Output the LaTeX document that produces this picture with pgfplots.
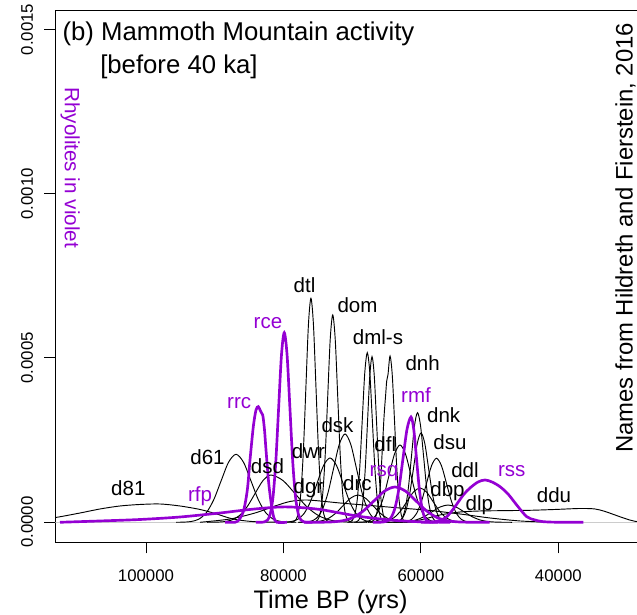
\documentclass[border=0pt]{standalone}
\usepackage{pgfplots}
\pgfplotsset{compat=1.18}
\usepackage{fontspec}
\setmainfont{Liberation Sans}
\definecolor{viol}{HTML}{9400D3}
\newcommand{\lab}{\fontsize{15.4}{18}\selectfont}
\begin{document}
\begin{tikzpicture}
\begin{axis}[
  at={(41.475pt,54.525pt)}, anchor=south west,
  scale only axis, width=445.3pt, height=398.5pt,
  x dir=reverse,
  xmin=26804, xmax=113199, ymin=-0.0000609, ymax=0.001556,
  axis line style={line width=0.75pt},
  xtick={40000,60000,80000,100000},
  xticklabels={\mbox{40000},\mbox{60000},\mbox{80000},\mbox{100000}},
  ytick={0,0.0005,0.001,0.0015},
  yticklabels={\mbox{0.0000},\mbox{0.0005},\mbox{0.0010},\mbox{0.0015}},
  scaled x ticks=false, scaled y ticks=false,
  tick align=outside, xtick pos=left, ytick pos=left,
  major tick length=8.25pt,
  tick style={line width=0.75pt, black},
  ticklabel style={font=\fontsize{12.6}{15}\selectfont},
  yticklabel style={rotate=90, anchor=base},
  xticklabel style={anchor=base},
  xticklabel shift=21.3pt,
  yticklabel shift=8.5pt,
  every axis plot/.append style={smooth},
]
% grey baseline
\addplot[gray!40, line width=0.5pt, sharp plot] coordinates {(26804,0) (113199,0)};
% ---- black (non-rhyolite) units ----
\addplot[black, line width=0.7pt] coordinates {% d81
(120000,2e-6) (116880,5.5e-6) (113242,1.43e-5) (109604,2.83e-5) (106694,4.05e-5) (103784,4.96e-5) (100873,5.42e-5) (97963,5.57e-5) (95053,4.96e-5) (92142,3.9e-5) (89959,2.68e-5) (87340,1.0e-5) (84430,2.1e-6) (80500,0)};
\addplot[black, line width=0.7pt] coordinates {% d61
(78172,0) (79263,5e-7) (80354,2.3e-6) (81445,9.1e-6) (82536,2.80e-5) (83627,6.72e-5) (84718,1.255e-4) (85809,1.826e-4) (86900,2.069e-4) (87991,1.826e-4) (89082,1.255e-4) (90173,6.72e-5) (91264,2.80e-5) (92355,9.1e-6) (93446,2.3e-6) (94537,5e-7) (95628,0)};
\addplot[black, line width=0.7pt] coordinates {% dsd
(67842,0) (69588,3e-7) (71334,1.6e-6) (73080,6.3e-6) (74826,1.95e-5) (76572,4.67e-5) (78318,8.73e-5) (80064,1.270e-4) (81810,1.439e-4) (82974,1.270e-4) (84138,8.73e-5) (85302,4.67e-5) (86466,1.95e-5) (87630,6.3e-6) (88794,1.6e-6) (89958,3e-7) (91122,0)};
\addplot[black, line width=0.7pt] coordinates {% dgr
(92142,0) (87776,1.0e-5) (84138,2.83e-5) (81228,4.96e-5) (79045,6.33e-5) (76863,6.79e-5) (74676,6.48e-5) (71769,5.87e-5) (67404,5.11e-5) (63038,4.35e-5) (58672,3.59e-5) (54307,2.53e-5) (49941,1.31e-5) (45576,4.0e-6) (41210,0)};
\addplot[black, line width=0.7pt] coordinates {% dwr
(65652,0) (66598,4e-7) (67544,2.2e-6) (68490,8.6e-6) (69436,2.65e-5) (70382,6.35e-5) (71328,1.187e-4) (72274,1.727e-4) (73220,1.957e-4) (74166,1.727e-4) (75112,1.187e-4) (76058,6.35e-5) (77004,2.65e-5) (77950,8.6e-6) (78896,2.2e-6) (79842,4e-7) (80788,0)};
\addplot[black, line width=0.7pt] coordinates {% dtl
(73088,0) (73452,1.5e-6) (73816,7.6e-6) (74180,2.99e-5) (74544,9.22e-5) (74908,2.213e-4) (75272,4.134e-4) (75636,6.016e-4) (76000,6.817e-4) (76364,6.016e-4) (76728,4.134e-4) (77092,2.213e-4) (77456,9.22e-5) (77820,2.99e-5) (78184,7.6e-6) (78548,1.5e-6) (78912,0)};
\addplot[black, line width=0.7pt] coordinates {% dom
(69918,0) (70282,1.4e-6) (70646,7.0e-6) (71010,2.77e-5) (71374,8.54e-5) (71738,2.048e-4) (72102,3.826e-4) (72466,5.568e-4) (72830,6.309e-4) (73194,5.568e-4) (73558,3.826e-4) (73922,2.048e-4) (74286,8.54e-5) (74650,2.77e-5) (75014,7.0e-6) (75378,1.4e-6) (75742,0)};
\addplot[black, line width=0.7pt] coordinates {% dsk
(64344,0) (65181,6e-7) (66018,3.0e-6) (66855,1.18e-5) (67692,3.64e-5) (68529,8.72e-5) (69366,1.630e-4) (70203,2.371e-4) (71040,2.687e-4) (71877,2.371e-4) (72714,1.630e-4) (73551,8.72e-5) (74388,3.64e-5) (75225,1.18e-5) (76062,3.0e-6) (76899,6e-7) (77736,0)};
\addplot[black, line width=0.7pt] coordinates {% drc
(60422,0) (61513,2e-7) (62604,9e-7) (63695,3.6e-6) (64786,1.12e-5) (65877,2.70e-5) (66968,5.04e-5) (68059,7.33e-5) (69150,8.31e-5) (70241,7.33e-5) (71332,5.04e-5) (72423,2.70e-5) (73514,1.12e-5) (74605,3.6e-6) (75696,9e-7) (76787,2e-7) (77878,0)};
\addplot[black, line width=0.7pt] coordinates {% dml
(64888,0) (65252,1.1e-6) (65616,5.7e-6) (65980,2.27e-5) (66344,6.98e-5) (66708,1.676e-4) (67072,3.130e-4) (67436,4.555e-4) (67800,5.161e-4) (68164,4.555e-4) (68528,3.130e-4) (68892,1.676e-4) (69256,6.98e-5) (69620,2.27e-5) (69984,5.7e-6) (70348,1.1e-6) (70712,0)};
\addplot[black, line width=0.7pt] coordinates {% dms
(64486,0) (64814,1.1e-6) (65142,5.6e-6) (65470,2.21e-5) (65798,6.82e-5) (66126,1.636e-4) (66454,3.057e-4) (66782,4.448e-4) (67110,5.040e-4) (67438,4.448e-4) (67766,3.057e-4) (68094,1.636e-4) (68422,6.82e-5) (68750,2.21e-5) (69078,5.6e-6) (69406,1.1e-6) (69734,0)};
\addplot[black, line width=0.7pt] coordinates {% dnh
(61866,0) (62194,1.1e-6) (62522,5.6e-6) (62850,2.22e-5) (63178,6.85e-5) (63506,1.643e-4) (63834,3.070e-4) (64162,4.466e-4) (64490,5.061e-4) (64784,4.5e-4) (64975,4.3e-4) (65120,3.9e-4) (65366,3.2e-4) (65657,2.05e-4) (65948,9.8e-5) (66385,3.1e-5) (66822,7e-6) (67404,0)};
\addplot[black, line width=0.7pt] coordinates {% dfl
(56640,0) (57440,5e-7) (58240,2.6e-6) (59040,1.03e-5) (59840,3.18e-5) (60640,7.64e-5) (61440,1.427e-4) (62240,2.076e-4) (63040,2.352e-4) (63840,2.076e-4) (64640,1.427e-4) (65440,7.64e-5) (66240,3.18e-5) (67040,1.03e-5) (67840,2.6e-6) (68640,5e-7) (69440,0)};
\addplot[black, line width=0.7pt] coordinates {% dnk
(56994,0) (57431,7e-7) (57868,3.7e-6) (58305,1.46e-5) (58742,4.51e-5) (59179,1.083e-4) (59616,2.023e-4) (60053,2.943e-4) (60490,3.335e-4) (60927,2.943e-4) (61364,2.023e-4) (61801,1.083e-4) (62238,4.51e-5) (62675,1.46e-5) (63112,3.7e-6) (63549,7e-7) (63986,0)};
\addplot[black, line width=0.7pt] coordinates {% dsu
(55612,0) (56158,6e-7) (56704,3.0e-6) (57250,1.19e-5) (57796,3.68e-5) (58342,8.83e-5) (58888,1.648e-4) (59434,2.399e-4) (59980,2.718e-4) (60526,2.399e-4) (61072,1.648e-4) (61618,8.83e-5) (62164,3.68e-5) (62710,1.19e-5) (63256,3.0e-6) (63802,6e-7) (64348,0)};
\addplot[black, line width=0.7pt] coordinates {% ddl
(51906,0) (52634,4e-7) (53362,2.2e-6) (54090,8.6e-6) (54818,2.64e-5) (55546,6.33e-5) (56274,1.181e-4) (57002,1.719e-4) (57730,1.948e-4) (58458,1.719e-4) (59186,1.181e-4) (59914,6.33e-5) (60642,2.64e-5) (61370,8.6e-6) (62098,2.2e-6) (62826,4e-7) (63554,0)};
\addplot[black, line width=0.7pt] coordinates {% dbp
(52562,0) (53508,2e-7) (54454,1.2e-6) (55400,4.6e-6) (56346,1.41e-5) (57292,3.39e-5) (58238,6.33e-5) (59184,9.21e-5) (60130,1.044e-4) (61076,9.21e-5) (62022,6.33e-5) (62968,3.39e-5) (63914,1.41e-5) (64860,4.6e-6) (65806,1.2e-6) (66752,2e-7) (67698,0)};
\addplot[black, line width=0.7pt] coordinates {% dlp
(46738,0) (47902,1e-7) (49066,6e-7) (50230,2.3e-6) (51394,7.1e-6) (52558,1.71e-5) (53722,3.19e-5) (54886,4.64e-5) (56050,5.26e-5) (57214,4.64e-5) (58378,3.19e-5) (59542,1.71e-5) (60706,7.1e-6) (61870,2.3e-6) (63034,6e-7) (64198,1e-7) (65362,0)};
\addplot[black, line width=0.7pt] coordinates {% ddu
(63038,0) (60128,7.0e-6) (57217,2.22e-5) (54307,3.13e-5) (51397,3.44e-5) (48486,3.53e-5) (44120,3.65e-5) (40482,3.90e-5) (36844,4.20e-5) (34662,4.05e-5) (33206,3.29e-5) (31751,2.22e-5) (30296,1.16e-5) (28841,3.0e-6) (26658,0)};
% ---- violet (rhyolite) units ----
\addplot[viol, line width=2pt] coordinates {% rfp
(112515,0) (106694,4.0e-6) (100873,8.5e-6) (95052,1.61e-5) (89232,2.83e-5) (84866,3.90e-5) (80500,4.66e-5) (77590,4.50e-5) (74680,3.90e-5) (71769,2.83e-5) (68859,1.77e-5) (64493,7.0e-6) (60128,1.5e-6) (55762,0)};
\addplot[viol, line width=2pt] coordinates {% rrc
(88500,0) (87049,0) (86613,4.0e-6) (85840,3.23e-5) (85258,9.83e-5) (84866,1.896e-4) (84386,2.909e-4) (83993,3.418e-4) (83658,3.518e-4) (83338,3.387e-4) (83018,3.265e-4) (82756,2.809e-4) (82538,2.200e-4) (82145,1.196e-4) (81708,4.75e-5) (81373,1.31e-5) (80937,0) (79500,0)};
\addplot[viol, line width=2pt] coordinates {% rce
(75800,0) (76616,0) (77024,1.3e-6) (77432,6.4e-6) (77840,2.53e-5) (78248,7.81e-5) (78656,1.873e-4) (79064,3.500e-4) (79472,5.092e-4) (79880,5.770e-4) (80288,5.092e-4) (80696,3.500e-4) (81104,1.873e-4) (81512,7.81e-5) (81920,2.53e-5) (82328,6.4e-6) (82736,1.3e-6) (83144,0) (84000,0)};
\addplot[viol, line width=2pt] coordinates {% rsq
(50000,0) (51546,0) (53074,2e-7) (54602,1.2e-6) (56130,4.7e-6) (57658,1.45e-5) (59186,3.49e-5) (60714,6.51e-5) (62242,9.48e-5) (63770,1.074e-4) (65298,9.48e-5) (66826,6.51e-5) (68354,3.49e-5) (69882,1.45e-5) (71410,4.7e-6) (72938,1.2e-6) (74466,2e-7) (75994,0) (77000,0)};
\addplot[viol, line width=2pt] coordinates {% rmf
(57500,0) (58240,0) (58640,7e-7) (59040,3.6e-6) (59440,1.41e-5) (59840,4.34e-5) (60240,1.040e-4) (60640,1.943e-4) (61040,2.828e-4) (61440,3.204e-4) (62022,2.828e-4) (62604,1.943e-4) (63186,1.040e-4) (63768,4.34e-5) (64350,1.41e-5) (64932,3.6e-6) (65514,7e-7) (66096,0) (67000,0)};
\addplot[viol, line width=2pt] coordinates {% rss
(60000,0) (58672,0) (57217,5.5e-6) (56242,1.70e-5) (55282,4.05e-5) (53826,8.31e-5) (52852,1.044e-4) (51688,1.226e-4) (50670,1.287e-4) (49651,1.226e-4) (48486,1.083e-4) (47322,8.61e-5) (46056,5.26e-5) (44601,1.70e-5) (43393,7.0e-6) (42185,1.8e-6) (39755,0) (36365,0)};
\end{axis}
\begin{scope}[x=0.75pt, y=-0.75pt, shift={(0pt,461.25pt)}]
% ---- texts (pixel positions from top-left) ----
\node[anchor=base west, inner sep=0pt, font=\fontsize{19.3}{23}\selectfont] at (62.3,40.7) {(b) Mammoth Mountain activity};
\node[anchor=base west, inner sep=0pt, font=\fontsize{19.3}{23}\selectfont] at (100,74) {[before 40 ka]};
\node[anchor=base west, inner sep=0pt, rotate=-90, text=viol, font=\fontsize{15.5}{18}\selectfont] at (65,87) {Rhyolites in violet};
\node[anchor=base west, inner sep=0pt, rotate=90, font=\fontsize{17.9}{21}\selectfont] at (632.5,453) {Names from Hildreth and Fierstein, 2016};
\node[anchor=base, inner sep=0pt, font=\fontsize{19}{23}\selectfont] at (330.6,608.3) {Time BP (yrs)};
\begin{scope}[every node/.style={anchor=base, inner sep=0pt, font=\lab}]
\node at (128.3,496) {d81};
\node at (207.5,465) {d61};
\node at (267.5,473.3) {dsd};
\node at (308.5,458.3) {dwr};
\node at (308.5,494) {dgr};
\node at (304.5,292.7) {dtl};
\node at (337.5,432.7) {dsk};
\node at (357.5,312.7) {dom};
\node at (378,344.3) {dml-s};
\node at (422.7,370.7) {dnh};
\node at (385.3,451.7) {dfl};
\node at (357.5,490.7) {drc};
\node at (443.7,422.7) {dnk};
\node at (450,449.3) {dsu};
\node at (465,477.7) {ddl};
\node at (447.5,496.7) {dbp};
\node at (479.3,511) {dlp};
\node at (554,502.7) {ddu};
\node[text=viol] at (200,501.7) {rfp};
\node[text=viol] at (239.2,408.3) {rrc};
\node[text=viol] at (268,328.3) {rce};
\node[text=viol] at (416,402.7) {rmf};
\node[text=viol] at (384,476.7) {rsq};
\node[text=viol] at (511.7,476.7) {rss};
\end{scope}
\pgfresetboundingbox
\path[use as bounding box] (0,0) rectangle (637,615);
\end{scope}
\end{tikzpicture}
\end{document}
